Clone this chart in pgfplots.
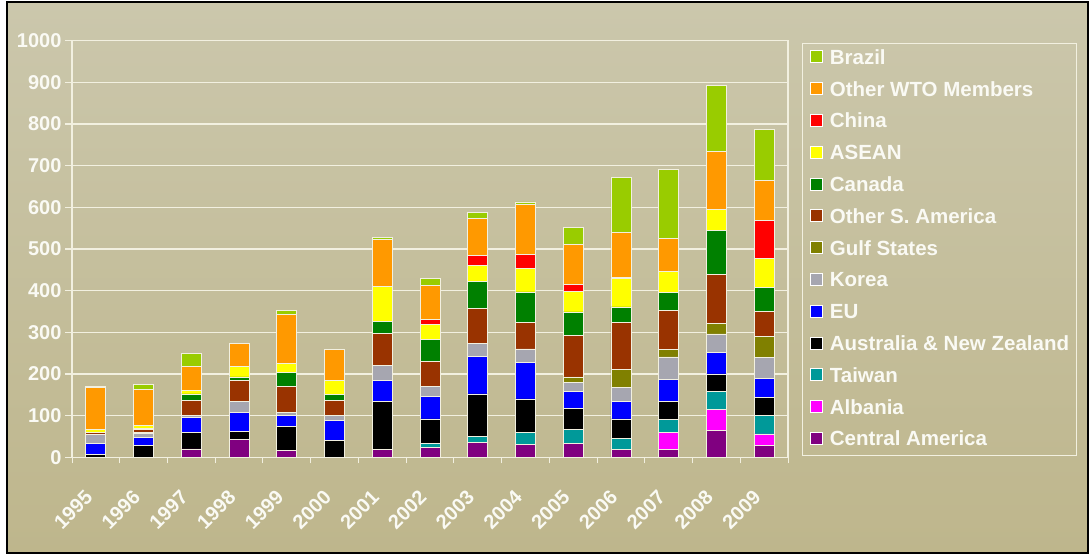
\documentclass[border=0pt]{standalone}
\usepackage{fontspec}
\setmainfont{Liberation Sans}
\usepackage{pgfplots}
\usepackage{pgfplotstable}
\pgfplotsset{compat=1.18}

\definecolor{bgtop}{RGB}{203,199,172}
\definecolor{bgbot}{RGB}{190,182,140}
\definecolor{gridc}{RGB}{242,240,224}
\definecolor{txt}{RGB}{250,250,244}
\definecolor{cBrazil}{RGB}{153,204,0}
\definecolor{cOWTO}{RGB}{255,153,0}
\definecolor{cChina}{RGB}{255,0,0}
\definecolor{cASEAN}{RGB}{255,255,0}
\definecolor{cCanada}{RGB}{0,128,0}
\definecolor{cOSA}{RGB}{153,51,0}
\definecolor{cGulf}{RGB}{128,128,0}
\definecolor{cKorea}{RGB}{166,166,176}
\definecolor{cEU}{RGB}{0,0,255}
\definecolor{cAus}{RGB}{0,0,0}
\definecolor{cTaiwan}{RGB}{0,153,153}
\definecolor{cAlbania}{RGB}{255,0,255}
\definecolor{cCA}{RGB}{128,0,128}

% year index, then one column per region (bottom of stack first)
\pgfplotstableread{
x  CA Alb Tw Aus EU Kor Gulf OSA Can ASEAN China OWTO Brazil
0   0   0  0   7 27  21   0    5   0    6     0  101    3
1   0   0  0  28 20   9   3    6   4    6     0   87   12
2  20   0  0  40 35   5   0   36  16    9     0   58   30
3  42   0  0  20 46  26   0   50   9   25     0   55    0
4  16   0  0  59 25   8   0   61  34   23     0  116   11
5   0   0  0  41 48  11   0   36  14   34     0   75    0
6  18   0  0 117 50  35   0   78  29   84     0  111    5
7  24   0 10  58 54  24   0   61  51   37    12   81   18
8  35   0 15 102 90  32   0   84  64   38    24   89   15
9  31   0 28  81 88  32   0   63  74   56    35  119    6
10 34   0 33  50 40  23  13   99  57   49    16   97   40
11 18   0 28  46 42  34  42  114  37   69     2  107  133
12 19  40 32  44 52  54  18   94  43   51     0   78  167
13 64  50 44  42 52  44  25  117 106   50     0  140  158
14 28  28 44  44 46  50  50   60  58   70    90   96  124
}\datatable

\begin{document}
\begin{tikzpicture}[x=1pt,y=1pt]
\fill[white] (0,0) rectangle (1091,555);
\shade[top color=bgtop, bottom color=bgbot] (7,2) rectangle (1088,553);
\draw[black, line width=2.5pt] (7,2) rectangle (1088,553);
\begin{axis}[
    at={(72pt,97.7pt)}, anchor=south west,
    scale only axis, width=716pt, height=416.6pt,
    ybar stacked, bar width=20pt,
    xmin=-0.5, xmax=14.5, ymin=0, ymax=1000,
    axis line style={draw=gridc, line width=1.5pt},
    ymajorgrids, grid style={draw=gridc, line width=1.5pt},
    ytick={0,100,...,1000},
    xtick={0,...,14},
    xticklabels={1995,1996,1997,1998,1999,2000,2001,2002,2003,2004,2005,2006,2007,2008,2009},
    minor xtick={-0.5,0.5,...,14.5},
    tick align=outside, xtick pos=left, ytick pos=left,
    major tick length=7pt, minor tick length=6pt,
    major x tick style={draw=none},
    minor x tick style={draw=gridc, line width=1pt},
    major y tick style={draw=gridc, line width=1.2pt},
    /pgf/number format/assume math mode=true,
    /pgf/number format/1000 sep={},
    ticklabel style={font=\fontsize{20}{24}\selectfont\bfseries, text=txt},
    xticklabel style={rotate=45, anchor=north east, xshift=-22.6pt, yshift=-5.6pt},
    legend style={at={(1.0196,0.995)}, anchor=north west,
        draw=gridc, line width=1pt, fill=none,
        font=\fontsize{20.5}{24}\selectfont\bfseries, text=txt,
        inner xsep=7pt, inner ysep=6pt, row sep=12.8pt, column sep=7pt,
        nodes={inner sep=0pt, text height=15pt, text depth=4pt, anchor=base west}},
    legend cell align=left,
    reverse legend,
    legend image code/.code={\draw[#1, draw=white, line width=0.8pt] (0pt,1.5pt) rectangle (12.5pt,13.5pt);},
    every axis plot/.append style={draw=gridc, line width=0.8pt},
]
\addplot[fill=cCA] table[x=x,y=CA]{\datatable};
\addlegendentry{Central America}
\addplot[fill=cAlbania] table[x=x,y=Alb]{\datatable};
\addlegendentry{Albania}
\addplot[fill=cTaiwan] table[x=x,y=Tw]{\datatable};
\addlegendentry{Taiwan}
\addplot[fill=cAus] table[x=x,y=Aus]{\datatable};
\addlegendentry{Australia \& New Zealand}
\addplot[fill=cEU] table[x=x,y=EU]{\datatable};
\addlegendentry{EU}
\addplot[fill=cKorea] table[x=x,y=Kor]{\datatable};
\addlegendentry{Korea}
\addplot[fill=cGulf] table[x=x,y=Gulf]{\datatable};
\addlegendentry{Gulf States}
\addplot[fill=cOSA] table[x=x,y=OSA]{\datatable};
\addlegendentry{Other S. America}
\addplot[fill=cCanada] table[x=x,y=Can]{\datatable};
\addlegendentry{Canada}
\addplot[fill=cASEAN] table[x=x,y=ASEAN]{\datatable};
\addlegendentry{ASEAN}
\addplot[fill=cChina] table[x=x,y=China]{\datatable};
\addlegendentry{China}
\addplot[fill=cOWTO] table[x=x,y=OWTO]{\datatable};
\addlegendentry{Other WTO Members}
\addplot[fill=cBrazil] table[x=x,y=Brazil]{\datatable};
\addlegendentry{Brazil}
\end{axis}
\end{tikzpicture}
\end{document}
